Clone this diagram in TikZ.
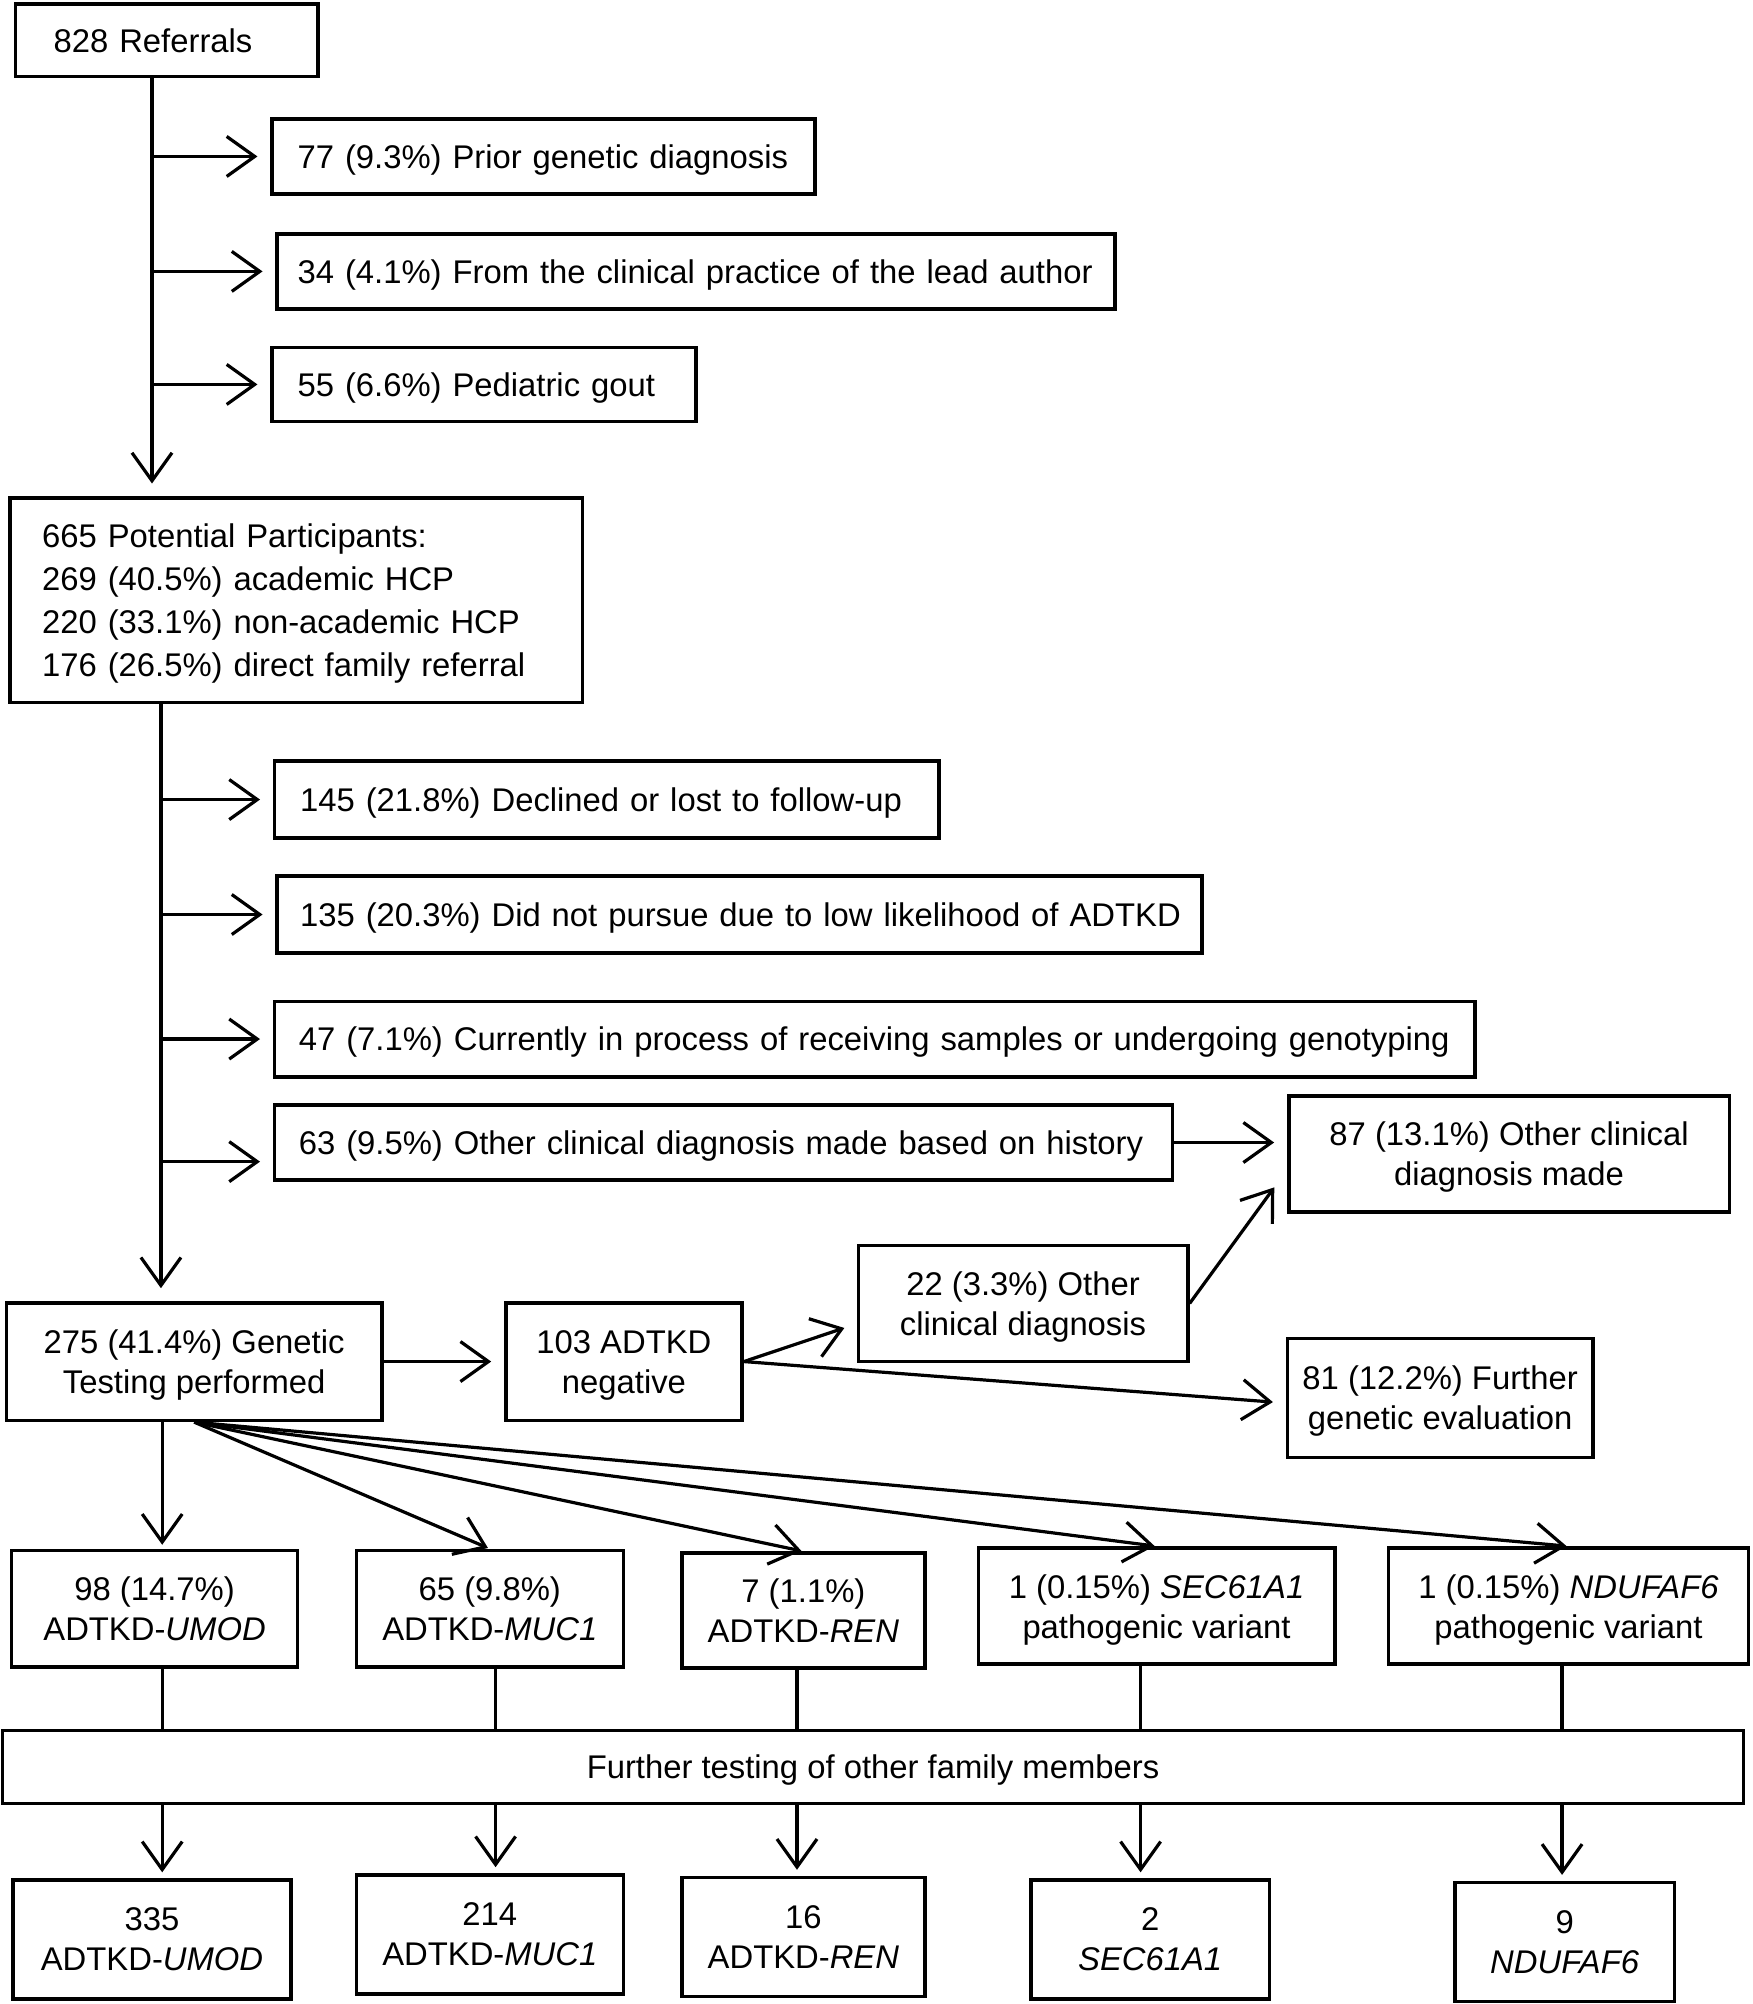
\documentclass[tikz,border=0pt]{standalone}
\usepackage{fontspec}
\setmainfont{Liberation Sans}
\usetikzlibrary{arrows.meta,calc}
\newlength\uu \setlength\uu{0.6385pt}
\tikzset{
  bx/.style n args={4}{draw, line width=1.8pt, inner sep=0pt,
    minimum width={(#3-#1)*\uu}, minimum height={(#4-#2)*\uu},
    at={({(#1+#3)/2},{(#2+#4)/2})}, text depth=0pt,
    font=\fontsize{16.4pt}{20pt}\selectfont, align=center},
  lbx/.style n args={5}{bx={#1}{#2}{#3}{#4},
    text width={(#3-#1-2*#5)*\uu}, inner xsep={#5*\uu}, align=left},
  ln/.style={line width=1.6pt},
  arr/.style={ln, -{Straight Barb[length=14pt,width=20pt]}, shorten >=6.4pt},
}
\begin{document}
\begin{tikzpicture}[x=0.6385pt, y=-0.6385pt]
\useasboundingbox (0,0) rectangle (1372,1569);
% nodes
\node[lbx={12}{3}{249}{60}{30}] (ref) {\mbox{828 Referrals}};
\node[lbx={213}{93}{638}{152}{20}] (b1) {\mbox{77 (9.3\%) Prior genetic diagnosis}};
\node[lbx={217}{183}{873}{242}{16}] (b2) {\mbox{34 (4.1\%) From the clinical practice of the lead author}};
\node[lbx={213}{272}{545}{330}{20}] (b3) {\mbox{55 (6.6\%) Pediatric gout}};
\node[lbx={8}{390}{456}{550}{25}, font=\fontsize{16.4pt}{21.4pt}\selectfont,
      text height=11.7pt, text depth=64.2pt] (pp)
  {\mbox{665 Potential Participants:}\\\mbox{269 (40.5\%) academic HCP}\\\mbox{220 (33.1\%) non-academic HCP}\\\mbox{176 (26.5\%) direct family referral}};
\node[lbx={215}{596}{735}{656}{20}] (d1) {\mbox{145 (21.8\%) Declined or lost to follow-up}};
\node[lbx={217}{686}{941}{746}{18}] (d2) {\mbox{135 (20.3\%) Did not pursue due to low likelihood of ADTKD}};
\node[lbx={215}{784}{1155}{843}{19}] (d3) {\mbox{47 (7.1\%) Currently in process of receiving samples or undergoing genotyping}};
\node[lbx={215}{865}{918}{924}{19}] (d4) {\mbox{63 (9.5\%) Other clinical diagnosis made based on history}};
\node[bx={1009}{858}{1354}{949}] (e) {87 (13.1\%) Other clinical\\diagnosis made};
\node[bx={5}{1020}{299}{1112}] (f) {275 (41.4\%) Genetic\\Testing performed};
\node[bx={396}{1020}{581}{1112}] (g) {103 ADTKD\\negative};
\node[bx={672}{975}{930}{1066}] (h) {22 (3.3\%) Other\\clinical diagnosis};
\node[bx={1008}{1048}{1247}{1141}] (i) {81 (12.2\%) Further\\genetic evaluation};
\node[bx={9}{1214}{233}{1305}] (j1) {98 (14.7\%)\\ADTKD-\textit{UMOD}};
\node[bx={279}{1214}{488}{1305}] (j2) {65 (9.8\%)\\ADTKD-\textit{MUC1}};
\node[bx={534}{1216}{724}{1306}] (j3) {7 (1.1\%)\\ADTKD-\textit{REN}};
\node[bx={766}{1212}{1045}{1303}] (j4) {1 (0.15\%) \textit{SEC61A1}\\pathogenic variant};
\node[bx={1087}{1212}{1369}{1303}] (j5) {1 (0.15\%) \textit{NDUFAF6}\\pathogenic variant};
\node[bx={2}{1355}{1365}{1412}] (k) {Further testing of other family members};
\node[bx={10}{1472}{228}{1565}] (l1) {335\\ADTKD-\textit{UMOD}};
\node[bx={279}{1468}{488}{1561}] (l2) {214\\ADTKD-\textit{MUC1}};
\node[bx={534}{1470}{724}{1563}] (l3) {16\\ADTKD-\textit{REN}};
\node[bx={807}{1472}{994}{1565}] (l4) {2\\\textit{SEC61A1}};
\node[bx={1139}{1474}{1311}{1567}] (l5) {9\\\textit{NDUFAF6}};
% helper coordinates
\coordinate (t1) at (119,0);
\coordinate (t2) at (126,0);
\coordinate (v1) at (127,0);
\coordinate (v2) at (388,0);
\coordinate (v3) at (624,0);
\coordinate (v4) at (893,0);
\coordinate (v5) at (1223,0);
\coordinate (d4a) at ($(d4.west)+(0,15)$);
% connectors
\draw[arr] (ref.south -| t1) -- (pp.north -| t1);
\foreach \n in {b1,b2,b3} \draw[arr] (\n.west -| t1) -- (\n.west);
\draw[arr] (pp.south -| t2) -- (f.north -| t2);
\foreach \n in {d1,d2,d3} \draw[arr] (\n.west -| t2) -- (\n.west);
\draw[arr] (d4a -| t2) -- (d4a);
\draw[arr] (d4.east) -- (d4.east -| e.west);
\draw[arr] (f.east) -- (g.west);
\draw[arr] (g.east) -- ($(h.west)+(0,16)$);
\draw[arr] (h.east) -- ($(e.west)+(-4,18)$);
\draw[arr] (g.east) -- ($(i.west)+(0,4)$);
\draw[arr, shorten >=2pt] (f.south -| v1) -- (j1.north -| v1);
\foreach \n in {j2,j3,j4,j5} \draw[arr, shorten >=1pt] (f.south) -- (\n.north);
\foreach \i in {1,...,5} {
  \draw[ln] (j\i.south -| v\i) -- (k.north -| v\i);
  \draw[arr, shorten >=3pt] (k.south -| v\i) -- (l\i.north -| v\i);
}
\end{tikzpicture}
\end{document}
